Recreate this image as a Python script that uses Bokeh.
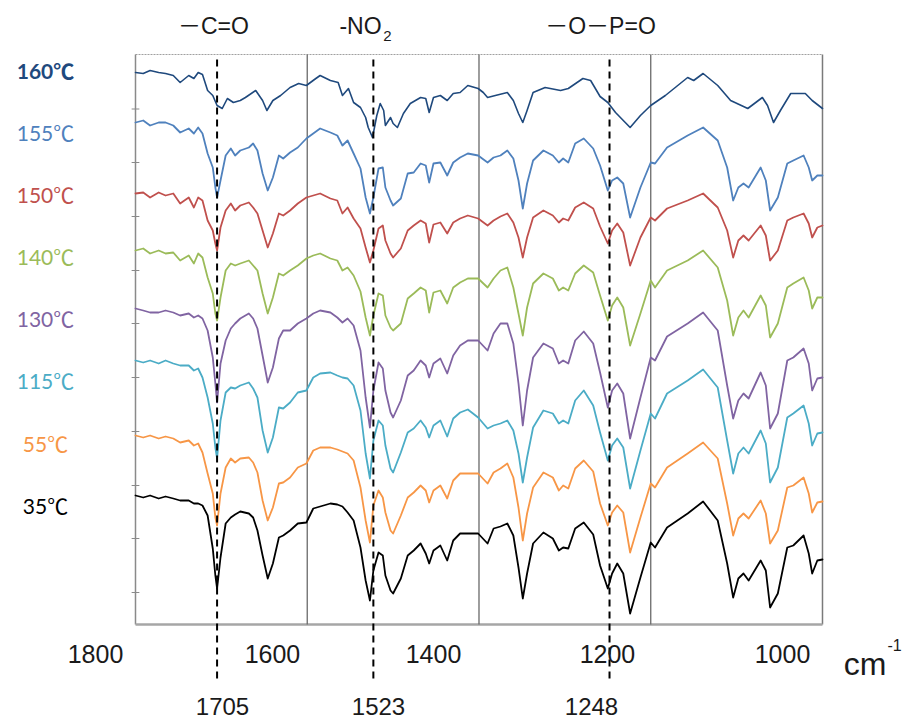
from bokeh.plotting import figure
from bokeh.models import Range1d
from bokeh.core.properties import value
from bokeh.embed import file_html
from bokeh.resources import INLINE

# ---------------- data ----------------
# shared wavenumber grid (cm-1) for the 155..35 spectra
wn = [1800, 1791, 1783, 1773, 1765, 1756, 1748, 1738, 1732, 1727,
      1722, 1716, 1710, 1707, 1705, 1701, 1695, 1689, 1684, 1678,
      1668, 1663, 1658, 1652, 1646, 1640, 1633, 1628, 1620, 1611,
      1601, 1593, 1585, 1573, 1565, 1559, 1553, 1546, 1538, 1532,
      1527, 1523, 1517, 1512, 1509, 1503, 1500, 1491, 1483, 1476,
      1468, 1462, 1458, 1453, 1445, 1437, 1430, 1422, 1413, 1401,
      1390, 1383, 1375, 1367, 1360, 1354, 1349, 1344, 1337, 1325,
      1314, 1307, 1302, 1296, 1288, 1278, 1267, 1259, 1250, 1245,
      1239, 1232, 1224, 1212, 1200, 1195, 1181, 1157, 1139, 1122,
      1111, 1104, 1098, 1092, 1086, 1072, 1066, 1061, 1052, 1041,
      1034, 1022, 1016, 1012, 1006, 1000]

# stacked signal (arbitrary offset units)
s155 = [502, 504, 499, 502, 502, 499, 492, 496, 491, 497,
        491, 471, 457, 437, 427, 444, 469, 476, 469, 474,
        477, 481, 474, 451, 434, 447, 469, 466, 472, 477,
        486, 491, 496, 492, 489, 479, 484, 471, 456, 427,
        411, 427, 456, 457, 437, 424, 419, 426, 451, 452,
        461, 459, 442, 461, 462, 449, 462, 467, 471, 469,
        462, 467, 469, 474, 466, 444, 416, 441, 464, 474,
        469, 462, 466, 462, 481, 486, 476, 459, 434, 444,
        447, 441, 407, 437, 462, 461, 477, 489, 497, 484,
        457, 424, 437, 441, 437, 457, 444, 414, 427, 461,
        464, 469, 457, 444, 449, 449]
s150 = [431, 432, 427, 432, 429, 431, 421, 427, 417, 427,
        424, 404, 394, 381, 374, 397, 414, 421, 414, 419,
        422, 417, 411, 394, 377, 391, 411, 409, 414, 421,
        427, 429, 431, 426, 424, 411, 417, 406, 396, 377,
        362, 374, 396, 399, 384, 371, 367, 376, 394, 399,
        404, 401, 382, 400, 402, 391, 402, 406, 409, 406,
        399, 404, 408, 411, 402, 387, 367, 387, 407, 414,
        409, 402, 406, 404, 417, 422, 416, 398, 381, 394,
        401, 392, 359, 387, 407, 404, 416, 424, 431, 417,
        394, 367, 384, 389, 384, 399, 389, 364, 374, 404,
        407, 411, 401, 387, 397, 399]
s140 = [374, 376, 371, 374, 371, 372, 364, 369, 361, 371,
        367, 347, 331, 311, 304, 327, 354, 361, 359, 361,
        364, 359, 354, 331, 311, 327, 351, 349, 354, 359,
        366, 369, 371, 366, 364, 354, 357, 349, 333, 307,
        289, 309, 331, 329, 309, 297, 294, 301, 326, 331,
        337, 334, 312, 332, 334, 321, 337, 342, 346, 346,
        337, 346, 354, 357, 337, 311, 289, 317, 341, 351,
        346, 334, 337, 334, 351, 359, 352, 329, 304, 319,
        327, 317, 279, 311, 344, 337, 354, 364, 374, 357,
        324, 289, 307, 314, 307, 329, 319, 287, 301, 337,
        341, 347, 334, 316, 327, 327]
s130 = [316, 314, 312, 312, 314, 312, 309, 311, 307, 309,
        306, 294, 267, 241, 222, 261, 284, 296, 301, 306,
        311, 306, 296, 269, 242, 257, 286, 294, 294, 301,
        306, 311, 314, 312, 307, 302, 306, 299, 274, 227,
        197, 234, 262, 256, 234, 212, 207, 224, 249, 254,
        264, 259, 247, 261, 266, 251, 269, 279, 284, 284,
        274, 291, 301, 301, 281, 241, 199, 234, 267, 281,
        276, 261, 264, 261, 284, 293, 281, 252, 217, 234,
        241, 231, 186, 227, 267, 264, 288, 301, 312, 294,
        239, 206, 224, 231, 226, 252, 239, 196, 211, 264,
        267, 276, 261, 234, 246, 247]
s115 = [264, 262, 264, 261, 264, 261, 259, 259, 254, 256,
        247, 227, 201, 177, 166, 204, 232, 237, 236, 239,
        242, 236, 227, 194, 172, 187, 217, 216, 222, 232,
        234, 247, 251, 252, 249, 247, 246, 239, 214, 171,
        146, 184, 204, 199, 179, 156, 152, 172, 192, 196,
        204, 197, 187, 199, 204, 188, 206, 212, 215, 207,
        196, 199, 201, 204, 194, 171, 142, 167, 197, 214,
        211, 201, 204, 201, 224, 234, 219, 192, 164, 179,
        186, 177, 136, 174, 211, 206, 231, 244, 255, 237,
        184, 151, 171, 177, 171, 194, 181, 142, 157, 207,
        211, 219, 201, 179, 191, 192]
s55 = [189, 187, 189, 186, 188, 186, 182, 184, 179, 181,
       172, 151, 131, 107, 99, 131, 157, 166, 162, 166,
       167, 162, 152, 124, 104, 117, 141, 142, 147, 157,
       161, 174, 177, 177, 175, 173, 171, 164, 137, 104,
       82, 119, 134, 127, 112, 94, 91, 109, 127, 132,
       139, 134, 122, 134, 139, 126, 144, 151, 151, 151,
       141, 152, 156, 161, 147, 117, 84, 111, 137, 152,
       147, 134, 139, 136, 156, 164, 153, 121, 99, 112,
       119, 112, 72, 107, 141, 137, 157, 171, 182, 166,
       121, 89, 106, 111, 106, 124, 111, 81, 94, 137,
       139, 147, 131, 112, 122, 123]
s35 = [129, 127, 129, 126, 128, 126, 124, 124, 121, 121,
       119, 109, 76, 49, 36, 67, 101, 107, 110, 113,
       111, 107, 94, 69, 46, 61, 87, 89, 94, 101,
       102, 116, 118, 121, 120, 118, 112, 104, 77, 44,
       24, 54, 72, 69, 49, 34, 31, 46, 69, 74,
       81, 71, 61, 74, 79, 64, 84, 91, 91, 91,
       81, 96, 98, 101, 89, 57, 26, 51, 81, 92,
       86, 74, 77, 76, 96, 102, 90, 59, 36, 51,
       61, 51, 11, 47, 82, 77, 97, 111, 123, 104,
       61, 27, 46, 51, 44, 64, 54, 17, 31, 77,
       79, 89, 71, 51, 64, 65]

# the 160 C spectrum has its own sampling
wn160 = [1800, 1791, 1783, 1773, 1765, 1756, 1748, 1738, 1732, 1727,
         1722, 1716, 1710, 1705, 1699, 1693, 1686, 1678, 1672, 1660,
         1652, 1647, 1640, 1631, 1620, 1610, 1601, 1590, 1585, 1573,
         1564, 1559, 1552, 1546, 1538, 1532, 1529, 1524, 1519, 1515,
         1511, 1509, 1503, 1500, 1495, 1488, 1480, 1468, 1462, 1458,
         1453, 1445, 1437, 1430, 1422, 1413, 1401, 1395, 1390, 1381,
         1367, 1360, 1354, 1349, 1344, 1337, 1323, 1305, 1296, 1279,
         1270, 1259, 1250, 1241, 1224, 1212, 1200, 1183, 1157, 1150,
         1139, 1122, 1107, 1087, 1070, 1064, 1057, 1049, 1037, 1020,
         1012, 1000]
s160 = [552, 551, 554, 552, 551, 549, 542, 549, 546, 552,
        550, 534, 529, 519, 516, 526, 522, 524, 527, 534,
        524, 514, 524, 529, 537, 541, 539, 546, 549, 544,
        542, 529, 536, 522, 517, 507, 497, 487, 509, 521,
        514, 499, 507, 501, 497, 511, 521, 527, 526, 512,
        527, 529, 524, 531, 532, 539, 536, 532, 527, 529,
        532, 524, 511, 502, 514, 532, 537, 534, 536, 546,
        544, 528, 522, 512, 497, 509, 519, 529, 547, 544,
        551, 539, 524, 516, 527, 519, 502, 514, 531, 531,
        524, 516]

temps = ["160℃", "155℃", "150℃", "140℃", "130℃", "115℃", "55℃", "35℃"]
colors = ["#1F497D", "#4F81BD", "#C0504D", "#9BBB59", "#8064A2", "#4BACC6", "#F79646", "#000000"]
signals = [s160, s155, s150, s140, s130, s115, s55, s35]

peaks = [1705, 1523, 1248]
peak_labels = ["1705", "1523", "1248"]
grid_wn = [1600, 1400, 1200]
tick_labels = ["1800", "1600", "1400", "1200", "1000"]
groups = ["\uff0dC=O", "-NO", "\uff0dO\uff0dP=O"]

# ---------------- figure ----------------
p = figure(width=904, height=722, x_range=Range1d(1957.2, 904.5), y_range=Range1d(-98, 624),
           output_backend="svg", toolbar_location=None, min_border=0,
           x_axis_location=None, y_axis_location=None)
p.grid.visible = False
p.outline_line_color = None
p.background_fill_color = "white"
p.border_fill_color = "white"

XL, XR, YB, YT = 1800, 1000, 0, 570

# plot box
p.line([XL, XR], [YT, YT], line_color="#a0a0a0", line_width=1.2, line_dash="2 1")
p.line([XL, XL], [YB, YT], line_color="#8a8a8a", line_width=1.5)
p.line([XR, XR], [YB, YT], line_color="#7a7a7a", line_width=1.5)
p.line([XL, XR], [YB, YB], line_color="#a6a6a6", line_width=2.5)
# left tick marks
yticks = [515.5, 462, 408, 354, 301, 247, 193, 139, 86, 32]
p.segment(x0=[1804.5] * len(yticks), y0=yticks, x1=[1795.5] * len(yticks), y1=yticks,
          line_color="#8a8a8a", line_width=1.2)
# vertical grid lines
p.segment(x0=grid_wn, y0=[YB] * 3, x1=grid_wn, y1=[YT] * 3, line_color="#6a6a6a", line_width=1.3)

# spectra
for i, (sig, col) in enumerate(zip(signals, colors)):
    xs = wn160 if i == 0 else wn
    p.line(xs, sig, line_color=col, line_width=1.8 if i else 1.6,
           line_join="round", line_cap="round")

# dashed reference lines
p.segment(x0=peaks, y0=[-54] * 3, x1=peaks, y1=[567] * 3, line_color="black",
          line_width=2, line_dash="7 5")

# temperature labels
label_y = [554, 492, 430, 368, 306, 244, 181, 119]
lab_font = value("Lato, 'Noto Sans CJK SC'")
p.text(x=[1904.8], y=[label_y[0]], text=[temps[0]], text_color=colors[0],
       text_font=lab_font, text_font_size="21px", text_font_style="bold",
       text_align="center", text_baseline="middle")
p.text(x=[1904.8] * 7, y=label_y[1:], text=temps[1:], text_color=colors[1:],
       text_font=lab_font, text_font_size="21px",
       text_align="center", text_baseline="middle")

# axis tick labels (placed as in reference)
tick_x = [1846.6, 1640.5, 1453.0, 1250.4, 1046.6]
p.text(x=tick_x, y=[-29] * 5, text=tick_labels, text_color="#1a1a1a",
       text_font=value("Liberation Sans"), text_font_size="25px",
       text_align="center", text_baseline="middle")
p.text(x=[950.5], y=[-39], text=["cm"], text_color="#1a1a1a",
       text_font=value("Liberation Sans"), text_font_size="32px",
       text_align="center", text_baseline="alphabetic")
p.text(x=[916.1], y=[-20], text=["-1"], text_color="#1a1a1a",
       text_font=value("Liberation Sans"), text_font_size="16px",
       text_align="center", text_baseline="middle")

# peak position labels
p.text(x=[1698.7, 1517.0, 1269.0], y=[-82] * 3, text=peak_labels, text_color="#1a1a1a",
       text_font=value("Liberation Sans"), text_font_size="24px",
       text_align="center", text_baseline="middle")

# functional group labels
p.text(x=[1709.2, 1538.0, 1258.5], y=[599] * 3, text=groups, text_color="#1a1a1a",
       text_font=value("Liberation Sans, 'Noto Sans CJK SC'"), text_font_size="23px",
       text_align="center", text_baseline="middle")
p.text(x=[1506.5], y=[589], text=["2"], text_color="#1a1a1a",
       text_font=value("Liberation Sans"), text_font_size="15px",
       text_align="center", text_baseline="middle")

open("out.html", "w").write(file_html(p, INLINE))
